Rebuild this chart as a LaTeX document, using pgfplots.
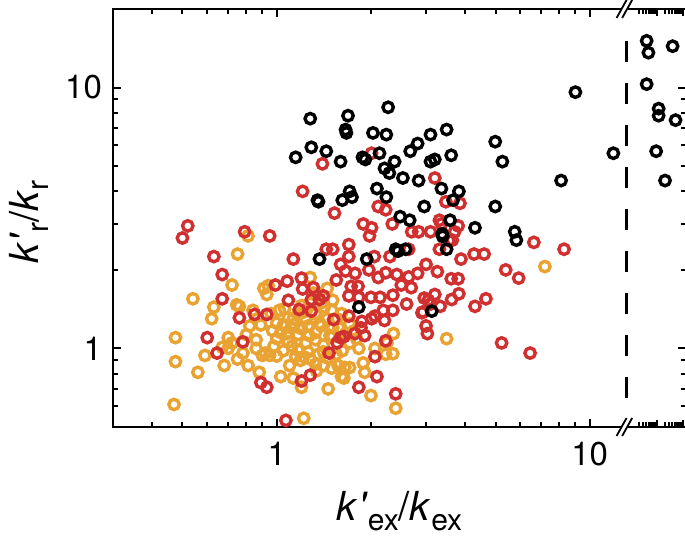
\documentclass[border=0pt]{standalone}
\usepackage{pgfplots}
\pgfplotsset{compat=1.18}
\usepackage{fontspec}
\setmainfont{TeX Gyre Heros}
\usetikzlibrary{calc}
\definecolor{cred}{RGB}{208,48,48}
\definecolor{corange}{RGB}{233,163,50}
\newcommand{\kk}[2]{\textit{k}#1\raisebox{-0.25em}{\fontsize{15}{15}\selectfont #2}}
\begin{document}
\begin{tikzpicture}
\begin{axis}[
 scale only axis, width=286.5pt, height=209pt,
 xmode=log, ymode=log,
 xmin=0.3, xmax=20.3, ymin=0.5, ymax=20,
 axis line style={line width=1pt},
 tick style={line width=1pt, black},
 tick align=inside,
 major tick length=4.25pt, minor tick length=2.5pt,
 xtick={1,10}, xticklabels={1,10},
 ytick={1,10}, yticklabels={1,10},
 minor xtick={0.3,0.4,0.5,0.6,0.7,0.8,0.9,2,3,4,5,6,7,8,9,14.33,14.82,15.18,15.47,15.69,15.91,16.08,16.24,17.34,17.94,18.38,18.72,19.00,19.25,19.46,19.65},
 extra x ticks={16.37,19.82}, extra x tick labels={,},
 extra x tick style={major tick length=3.5pt},
 minor ytick={0.6,0.7,0.8,0.9,2,3,4,5,6,7,8,9},
 ticklabel style={font=\fontsize{16.5}{19}\selectfont},
 xticklabel style={yshift=-4pt},
 yticklabel style={xshift=-2pt},
 mark size=2.6pt,
]
\addplot[only marks, mark=o, color=corange, mark options={line width=1.7pt, solid}] coordinates {
(0.81,2.7) (0.75,2.3) (0.72,1.75) (0.54,1.55) (0.63,1.44) (0.62,1.30) (0.745,1.47) (0.76,1.45) (0.94,1.74) (0.93,1.61) (0.91,1.70) (0.84,1.40) (0.89,1.23) (0.82,1.22) (0.80,1.13) (0.70,1.10) (0.72,1.05) (0.70,1.00) (0.67,1.01) (0.59,0.94) (0.75,0.91) (0.68,0.86) (0.56,0.81) (0.475,1.10) (0.475,0.89) (0.47,0.61) (0.81,0.86) (0.90,0.94) (0.95,0.94) (1.00,0.935) (1.00,1.09) (1.03,1.15) (1.05,1.23) (1.09,1.31) (1.17,1.36) (1.24,1.29) (1.26,1.22) (1.28,1.49) (1.20,1.46) (1.28,1.87) (1.31,1.63) (1.36,1.62) (1.45,1.70) (1.51,1.53) (1.42,1.44) (1.33,1.36) (1.39,1.22) (1.51,1.20) (1.09,1.06) (1.10,0.86) (1.17,0.985) (1.19,0.90) (1.26,0.97) (1.33,0.87) (1.34,0.82) (1.41,0.86) (1.50,0.84) (1.57,0.86) (1.65,0.845) (1.71,0.845) (1.61,0.78) (1.46,0.70) (1.20,0.71) (1.22,0.54) (1.13,0.77) (1.03,0.78) (1.24,1.05) (1.33,1.08) (1.41,1.03) (1.51,1.11) (1.71,1.05) (1.83,1.00) (1.89,0.88) (1.91,0.81) (2.00,0.66) (2.06,1.00) (2.23,0.95) (2.35,0.955) (2.36,1.14) (2.25,1.05) (2.40,0.59) (3.49,1.09) (7.19,2.06) (1.56,1.30) (1.61,1.36) (1.71,1.24) (1.77,1.17) (0.96,1.36) (1.06,1.42) (1.11,1.20) (1.33,1.15) (1.41,0.97) (1.17,1.13) (0.88,0.81) (0.92,0.96) (1.64,0.77)
(0.98,1.02) (1.05,0.98) (1.12,1.02) (1.15,0.93) (1.22,0.93) (1.28,0.91) (1.36,0.95) (1.45,0.92) (1.55,0.95) (1.62,0.98) (1.08,1.14) (1.14,1.24) (1.20,1.19) (1.27,1.12) (1.37,1.25) (1.45,1.30) (1.48,1.12) (1.58,1.20) (1.66,1.14) (1.80,1.09) (1.00,1.25) (0.97,1.17) (0.86,1.08) (0.86,1.00) (0.78,0.96) (1.13,1.30) (1.22,1.38) (1.50,1.40) (1.40,1.50) (1.02,1.40)
};
\addplot[only marks, mark=o, color=cred, mark options={line width=1.7pt, solid}] coordinates {
(1.40,5.1) (2.01,5.6) (1.21,4.0) (3.20,4.5) (1.53,3.3) (2.11,3.5) (2.23,3.4) (3.47,3.65) (3.85,3.6) (3.31,3.1) (1.89,3.0) (2.01,2.9) (1.98,2.7) (2.34,3.0) (2.70,2.8) (2.84,2.8) (3.10,2.8) (3.36,3.0) (3.70,2.8) (3.80,2.95) (3.64,2.6) (3.55,2.59)
(0.52,2.95) (0.50,2.65) (0.79,2.8) (0.95,2.7) (0.63,2.25) (0.67,1.92) (0.67,1.55) (1.13,2.2) (1.44,2.4) (1.51,2.4) (1.70,2.5) (1.70,2.25) (2.05,2.25) (2.30,2.25) (2.64,2.4) (3.31,2.4) (3.88,2.2) (4.27,2.3) (4.60,2.3) (6.63,2.55) (8.28,2.4)
(3.00,2.1) (3.26,1.97) (5.39,2.0) (5.93,1.86) (3.61,1.85) (3.80,1.85) (3.82,1.62) (4.66,1.55) (4.30,1.45) (1.60,2.1) (1.66,1.98) (1.78,1.94) (1.97,2.0) (2.11,1.87) (2.23,1.95) (2.64,1.88) (2.82,1.94) (2.42,1.92) (2.50,1.75) (2.69,1.71) (2.96,1.56) (3.05,1.53) (3.10,1.48) (3.33,1.45) (2.60,1.48) (2.35,1.6) (2.14,1.57) (2.00,1.57) (1.83,1.57) (1.70,1.59) (1.41,1.59) (1.37,1.54) (1.29,1.54) (1.31,1.71) (1.20,1.86) (1.21,1.69) (1.08,1.81) (0.99,1.75) (1.09,1.53) (1.18,1.41) (1.29,1.39) (1.55,1.83) (1.73,1.73) (1.82,1.73) (2.19,1.40) (2.35,1.40) (2.06,1.33) (2.01,1.30) (1.87,1.27) (1.70,1.33) (1.52,1.29) (1.86,1.20) (1.78,1.14) (1.91,1.12) (1.64,1.11) (1.60,1.10) (1.56,1.05) (1.47,0.96) (2.21,1.28) (2.23,1.07) (2.06,0.93) (2.09,0.78) (1.83,0.71) (2.40,0.67) (1.07,0.53) (1.28,0.79) (1.20,0.75) (0.89,0.74) (0.93,0.71) (0.645,0.96) (0.78,1.06) (0.60,1.10) (0.76,1.31) (0.85,1.35) (0.93,1.35) (2.91,1.37) (3.00,1.22) (3.03,1.14) (5.23,1.05) (6.45,0.96) (3.62,1.54) (3.20,1.61) (2.93,1.38)
};
\addplot[only marks, mark=o, color=black, mark options={line width=1.7pt, solid}] coordinates {
(9.0,9.6) (11.9,5.6) (8.1,4.4) (15.2,15.1) (15.4,13.6) (18.4,14.4) (15.2,10.3) (16.6,8.3) (16.6,7.8) (18.8,7.5) (16.3,5.7) (17.4,4.4)
(1.28,7.6) (1.69,7.8) (2.27,8.4) (1.66,6.9) (1.67,6.7) (2.03,6.7) (2.24,6.6) (3.10,6.6) (3.49,6.9)
(1.15,5.4) (1.29,5.9) (1.44,5.7) (1.60,5.2) (1.88,5.4) (1.92,5.3) (2.13,5.6) (2.38,5.2) (2.67,5.7) (2.82,6.1) (3.10,5.2) (3.20,5.3) (3.61,5.5) (4.99,6.2) (5.26,5.2)
(2.21,4.9) (2.29,4.7) (2.53,4.5) (2.84,4.4) (3.36,4.1) (3.82,4.0) (2.09,4.1) (2.24,3.8) (1.71,4.0) (1.74,3.8) (1.62,3.7) (1.35,3.7) (1.36,3.65)
(2.96,3.5) (3.66,3.7) (4.99,3.5) (2.48,3.2) (2.66,3.1) (3.58,3.1) (4.30,2.9) (5.76,2.8) (5.83,2.6) (3.38,2.75) (3.39,2.69) (3.49,2.4) (2.40,2.4) (2.58,2.4) (2.44,2.36) (1.37,2.2) (1.94,2.2)
(1.83,1.44) (3.13,1.39)
};
\draw[line width=1.2pt, dash pattern=on 10.5pt off 10.5pt] (axis cs:13.1,15.1) -- (axis cs:13.1,0.64);
\coordinate (sw) at (rel axis cs:0,0);
\coordinate (ne) at (rel axis cs:1,1);
\coordinate (bb) at (axis cs:12.9,0.5);
\coordinate (bt) at (axis cs:12.9,20);
\end{axis}
\foreach \c in {bb,bt}{
 \fill[white] ($(\c)+(-1.9pt,-0.9pt)$) -- ($(\c)+(0.9pt,-0.9pt)$) -- ($(\c)+(1.9pt,0.9pt)$) -- ($(\c)+(-0.9pt,0.9pt)$) -- cycle;
 \draw[line width=0.9pt] ($(\c)+(-3.9pt,-4.5pt)$) -- ($(\c)+(1.1pt,4.5pt)$);
 \draw[line width=0.9pt] ($(\c)+(-1.1pt,-4.5pt)$) -- ($(\c)+(3.9pt,4.5pt)$);
}
\node[rotate=90, inner sep=0pt, font=\fontsize{20}{24}\selectfont] at ($(sw)!0.5!(sw|-ne)+(-42pt,-2pt)$) {\kk{\textit{\textquotesingle}}{r}/\kk{}{r}};
\node[inner sep=0pt, font=\fontsize{20}{24}\selectfont] at ($(sw)!0.5!(ne|-sw)+(0,-42pt)$) {\kk{\textit{\textquotesingle}}{ex}/\kk{}{ex}};
\pgfresetboundingbox
\path ($(sw)+(-56.5pt,-60.5pt)$) rectangle ($(ne)+(-0.5pt,4.5pt)$);
\end{tikzpicture}
\end{document}
